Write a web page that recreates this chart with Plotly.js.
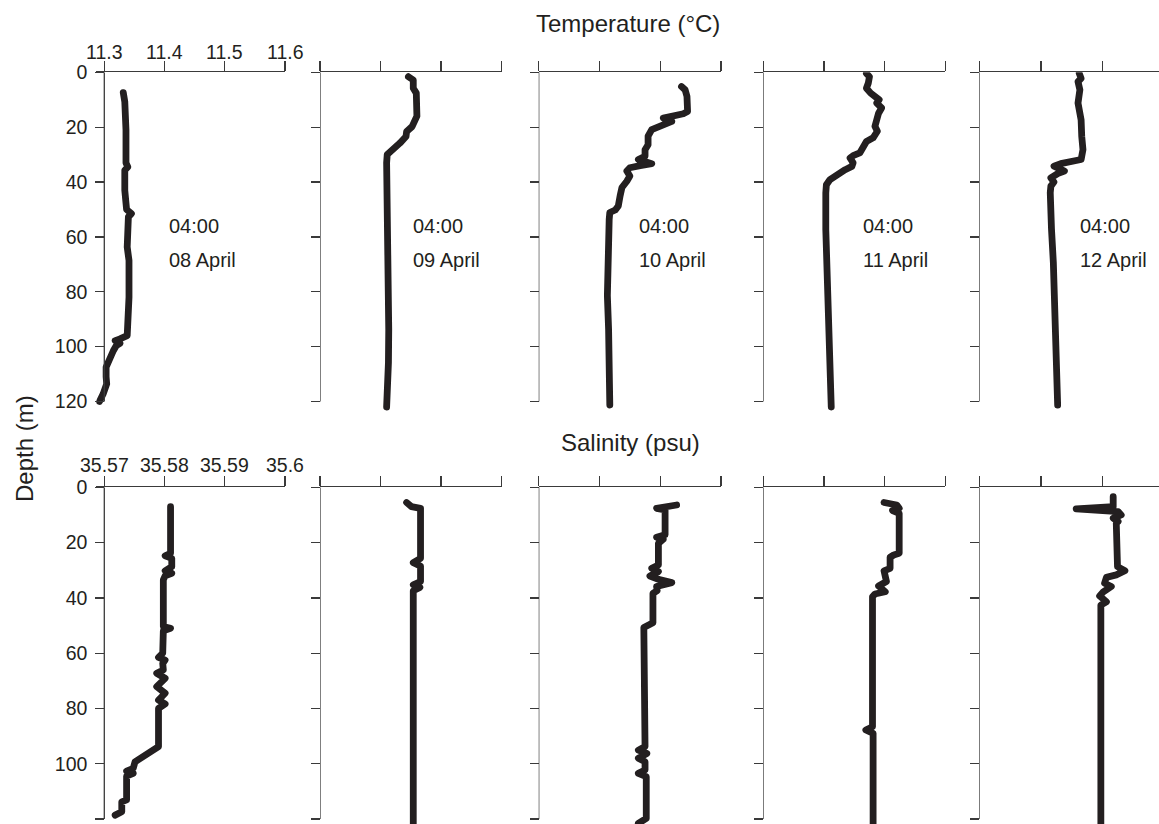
<!DOCTYPE html>
<html><head><meta charset="utf-8">
<script src="https://cdn.plot.ly/plotly-3.0.1.min.js"></script>
<style>html,body{margin:0;padding:0;background:#fff}#chart{width:1159px;height:824px}
path.js-line{stroke-linejoin:round !important;stroke-linecap:round !important}</style>
</head><body><div id="chart"></div>
<script>
// ---------- data ----------
const castDates = ['08 April','09 April','10 April','11 April','12 April'];
const castTime = '04:00';
const depthTicks = [0,20,40,60,80,100,120];
const depthTickText = ['0','20','40','60','80','100','120'];
const tempTicks = [11.3,11.4,11.5,11.6];
const tempTickText = ['11.3','11.4','11.5','11.6'];
const salTicks = [35.57,35.58,35.59,35.60];
const salTickText = ['35.57','35.58','35.59','35.6'];

// Temperature (°C) profiles
const tempDepth08 = [7.4,10.7,21,33,34.5,35.7,43,50,51.5,52.7,63.7,68.6,82,94,96,97.2,97.8,98.8,99.6,101.5,105,107.5,111,113.6,117.3,120];
const temp08 = [11.3315,11.334,11.336,11.336,11.339,11.334,11.334,11.337,11.345,11.340,11.338,11.341,11.341,11.340,11.338,11.326,11.318,11.326,11.320,11.315,11.309,11.303,11.303,11.304,11.298,11.292];

const tempDepth09 = [1.6,2.8,5.8,7.6,16,18,19.8,21.6,23.4,25.8,27.6,28.8,30,33,45,57,69,81.6,93.7,105.8,118,122];
const temp09 = [11.446,11.454,11.454,11.459,11.460,11.457,11.452,11.443,11.442,11.432,11.424,11.416,11.411,11.410,11.411,11.412,11.413,11.4135,11.4135,11.413,11.411,11.410];

const tempDepth10 = [5.2,6.4,8.8,14.3,15.1,15.8,16.7,17.9,18.5,19.7,20.9,23.3,26.4,28.2,30.6,31.8,33.3,34,34.8,36,37.8,39.7,42,45,48.7,50.2,51.1,53.6,63.2,69.3,81.4,93.5,105.6,121.3];
const temp10 = [11.535,11.541,11.544,11.545,11.538,11.522,11.505,11.519,11.511,11.494,11.486,11.480,11.480,11.475,11.475,11.464,11.486,11.467,11.450,11.445,11.450,11.445,11.437,11.434,11.431,11.426,11.417,11.416,11.415,11.413,11.413,11.415,11.416,11.417];

const tempDepth11 = [0.4,1.6,4,5.8,7.6,8.8,10,11.2,13,14.9,17.9,19.7,21.5,23.9,25.2,27,29.4,30.4,31.2,33,34.3,35.5,37.2,39.1,41,44,57.3,69.4,81.5,93.7,105.8,122];
const temp11 = [11.470,11.475,11.473,11.470,11.477,11.484,11.491,11.487,11.495,11.490,11.487,11.484,11.488,11.481,11.470,11.465,11.459,11.448,11.443,11.448,11.446,11.435,11.421,11.410,11.404,11.403,11.403,11.405,11.407,11.410,11.411,11.412];

const tempDepth12 = [0.4,2.2,3.4,6.4,11.2,14.3,17.3,23.3,28.2,31.8,32.4,33.3,34.2,36,36.9,38.5,40,41.5,43.9,47.5,57.2,69.3,81.4,93.5,105.6,121.3];
const temp12 = [11.462,11.465,11.460,11.463,11.460,11.462,11.465,11.466,11.468,11.465,11.449,11.432,11.421,11.438,11.427,11.416,11.421,11.416,11.415,11.415,11.417,11.420,11.422,11.425,11.426,11.427];

// Salinity (psu) profiles
const salDepth08 = [7,23.9,24.8,25.7,28.7,30.2,31.1,32,33.5,50.4,51,51.9,60,61.5,62.5,63.7,66.1,67.3,69.1,72.1,74.5,77,78.4,80,93.8,95.1,96.3,98,99.3,101.7,102.7,103.5,104.5,113.1,113.8,117.4,118.6];
const sal08 = [35.5810,35.5810,35.5801,35.5812,35.5812,35.5801,35.5812,35.5801,35.5798,35.5798,35.5810,35.5798,35.5797,35.5790,35.5801,35.5797,35.5798,35.5787,35.5801,35.5787,35.5801,35.5790,35.5801,35.5790,35.5790,35.5781,35.5770,35.5759,35.5751,35.5748,35.5737,35.5748,35.5737,35.5737,35.5729,35.5729,35.5718];

const salDepth09 = [5.5,7,7.6,25.7,27.3,28.5,34.1,35.3,36.2,37.4,55.2,121.6];
const sal09 = [35.5843,35.5851,35.5866,35.5866,35.5854,35.5866,35.5866,35.5854,35.5865,35.5854,35.5854,35.5854];

const salDepth10 = [6.4,7.6,8.2,17.2,18.1,18.8,20.3,28.1,29.3,30.5,32.1,33.3,34.5,35.9,37.4,38.4,49,49.8,50.7,93.8,95.1,96.3,98,99.3,102.3,103.5,104.7,119.8,121.6];
const sal10 = [35.5927,35.5894,35.5908,35.5908,35.5894,35.5905,35.5897,35.5897,35.5886,35.5897,35.5883,35.5897,35.5919,35.5894,35.5895,35.5888,35.5888,35.5880,35.5873,35.5875,35.5864,35.5878,35.5864,35.5875,35.5875,35.5864,35.5877,35.5877,35.5864];

const salDepth11 = [5.5,6.4,7.6,8.4,9.4,23.9,24.5,25.3,29.3,30.2,34.1,35.7,37.8,38.6,39.6,86.6,87.8,89,121.6];
const sal11 = [35.5899,35.5920,35.5924,35.5913,35.5924,35.5924,35.5915,35.5909,35.5909,35.5899,35.5903,35.5890,35.5901,35.5884,35.5880,35.5880,35.5869,35.5881,35.5881];

const salDepth12 = [3.4,7,7.8,8.8,10,11.2,12.4,13,28.7,30.2,31.7,32.6,34.7,35.9,37.8,39.3,41.4,42.6,121.6];
const sal12 = [35.5917,35.5917,35.5857,35.5925,35.5930,35.5917,35.5925,35.5922,35.5924,35.5936,35.5922,35.5906,35.5903,35.5914,35.5901,35.5895,35.5906,35.5897,35.5897];

const tempDepths = [tempDepth08,tempDepth09,tempDepth10,tempDepth11,tempDepth12];
const tempVals = [temp08,temp09,temp10,temp11,temp12];
const salDepths = [salDepth08,salDepth09,salDepth10,salDepth11,salDepth12];
const salVals = [sal08,sal09,sal10,sal11,sal12];

// ---------- layout ----------
const W = 1159, H = 824;
const FONT = 'Liberation Sans, Arial, Helvetica, sans-serif';
const INK = '#231f20';
const AX = '#3a3a3a';
const TICKSIZE = 19.5;
const panelLeft  = [104.3, 320, 538.7, 763.3, 979.3];
const panelRight = [285, 501.7, 721, 945.3, 1159];
const span03Px   = [180.7, 181.7, 182.3, 182.0, 185.1]; // pixels for 0.3 units
const leftPadPx  = [8, 0, 0, 0, 0]; // extra room left of the depth axis (first column)
const topY0 = 72.3, topPerM = (401.5-72.3)/120, topMax = 124;
const botY0 = 487.3, botPerM = (819-487.3)/120;
const botMax = (H - botY0)/botPerM;
const xLabelCenterPx = [51.5, 465]; // vertical centre of the top tick labels, per row

const traces = [];
const layout = {
  width: W, height: H,
  margin: {l:0, r:0, t:0, b:0},
  paper_bgcolor: '#fff', plot_bgcolor: 'rgba(0,0,0,0)',
  showlegend: false,
  font: {family: FONT, color: INK, size: 18},
  shapes: [], annotations: []
};

function axisName(n){ return n === 1 ? '' : String(n); }

for (let row = 0; row < 2; row++) {
  for (let i = 0; i < 5; i++) {
    const n = row*5 + i + 1;
    const s = axisName(n);
    const isTemp = row === 0;
    const lo = isTemp ? 11.3 : 35.57;
    const unit = isTemp ? 0.3 : 0.03;
    const pxPerUnit = span03Px[i] / unit;
    const hi = lo + (panelRight[i]-panelLeft[i]) / pxPerUnit;
    const loExt = lo - leftPadPx[i] / pxPerUnit;
    const xs = isTemp ? tempVals[i] : salVals[i];
    const ys = isTemp ? tempDepths[i] : salDepths[i];
    const tv = isTemp ? tempTicks : salTicks;
    const tt = isTemp ? tempTickText : salTickText;
    traces.push({
      type: 'scatter', mode: 'lines', x: xs, y: ys,
      xaxis: 'x'+s, yaxis: 'y'+s,
      line: {color: INK, width: 6.8, shape: 'linear'},
      hoverinfo: 'skip'
    });
    const yDom = isTemp
      ? [1 - (topY0 + topMax*topPerM)/H, 1 - topY0/H]
      : [0, 1 - botY0/H];
    layout['xaxis'+s] = {
      domain: [(panelLeft[i]-leftPadPx[i])/W, panelRight[i]/W],
      range: [loExt, hi], side: 'top', anchor: 'y'+s,
      showline: true, linecolor: AX, linewidth: 1.3,
      ticks: 'outside', ticklen: 10, tickwidth: 1.3, tickcolor: AX,
      tickmode: 'array', tickvals: tv, ticktext: tt,
      showticklabels: false,
      showgrid: false, zeroline: false, fixedrange: true
    };
    layout['yaxis'+s] = {
      domain: yDom,
      range: [isTemp ? topMax : botMax, 0],
      anchor: 'free', position: panelLeft[i]/W,
      showline: false,
      ticks: 'outside', ticklen: 9, tickwidth: 1.3, tickcolor: AX,
      tickmode: 'array', tickvals: depthTicks, ticktext: depthTickText,
      showticklabels: i === 0, ticklabelstandoff: 4,
      tickfont: {family: FONT, size: TICKSIZE, color: INK},
      showgrid: false, zeroline: false, fixedrange: true
    };
    layout.shapes.push({
      type: 'line', xref: 'x'+s, yref: 'y'+s,
      x0: lo, x1: lo, y0: 0, y1: 120,
      line: {color: AX, width: 1.3}
    });
    if (i === 0) {
      // top tick labels of the first column, placed on the axis scale
      tv.forEach((v, k) => layout.annotations.push({
        xref: 'x'+s, yref: 'paper', x: v, y: 1 - xLabelCenterPx[row]/H,
        xanchor: 'center', yanchor: 'middle', showarrow: false,
        text: tt[k], font: {family: FONT, size: TICKSIZE, color: INK}
      }));
    }
    if (isTemp) {
      const textLeft = [167, 411, 636.7, 860.7, 1078.3][i];
      layout.annotations.push({
        xref: 'paper', yref: 'paper', x: textLeft/W, y: 1 - 225.5/H,
        xanchor: 'left', yanchor: 'middle', showarrow: false,
        text: castTime, font: {family: FONT, size: 20, color: INK}
      });
      layout.annotations.push({
        xref: 'paper', yref: 'paper', x: textLeft/W, y: 1 - 259.5/H,
        xanchor: 'left', yanchor: 'middle', showarrow: false,
        text: castDates[i], font: {family: FONT, size: 20, color: INK}
      });
    }
  }
}

layout.annotations.push({
  xref: 'paper', yref: 'paper', x: 627.5/W, y: 1 - 23/H,
  xanchor: 'center', yanchor: 'middle', showarrow: false,
  text: 'Temperature (°C)', font: {family: FONT, size: 24, color: INK}
});
layout.annotations.push({
  xref: 'paper', yref: 'paper', x: 630/W, y: 1 - 442/H,
  xanchor: 'center', yanchor: 'middle', showarrow: false,
  text: 'Salinity (psu)', font: {family: FONT, size: 24, color: INK}
});
layout.annotations.push({
  xref: 'paper', yref: 'paper', x: 24/W, y: 1 - 448/H,
  xanchor: 'center', yanchor: 'middle', showarrow: false, textangle: -90,
  text: 'Depth (m)', font: {family: FONT, size: 24, color: INK}
});

Plotly.newPlot('chart', traces, layout, {displayModeBar: false, staticPlot: true});
</script>
</body></html>
